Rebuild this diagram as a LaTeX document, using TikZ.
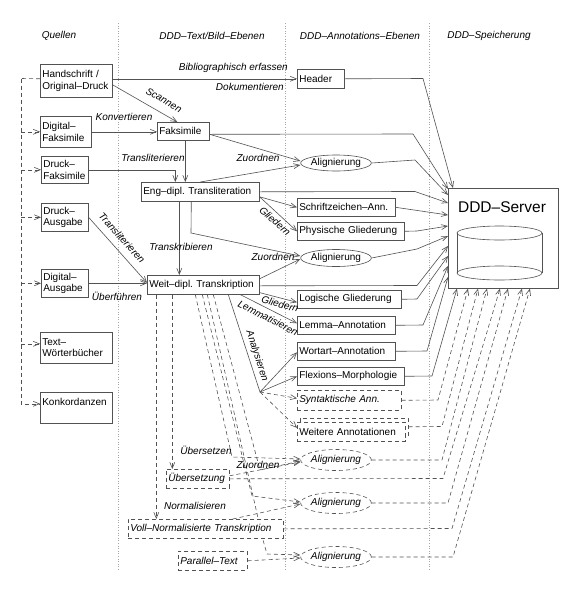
\documentclass[tikz,border=0pt]{standalone}
\usepackage{fontspec}
\setmainfont{Liberation Sans}
\usetikzlibrary{arrows.meta,shapes.geometric,calc}
\definecolor{lc}{gray}{0.32}
\pgfdeclarelayer{background}
\pgfsetlayers{background,main}
\frenchspacing
\begin{document}
\begin{tikzpicture}[x=1pt,y=-1pt,
  every node/.style={font=\fontsize{10}{11.5}\selectfont},
  box/.style={draw=lc, line width=0.6pt, inner xsep=2pt, inner ysep=2pt, align=left, anchor=north west, fill=white},
  dbox/.style={box, dash pattern=on 4pt off 3pt, font=\fontsize{10}{11.5}\selectfont\itshape},
  ell/.style={ellipse, draw=lc, line width=0.6pt, inner sep=0pt, fill=white},
  dell/.style={ell, dash pattern=on 4pt off 3pt, font=\fontsize{10}{11.5}\selectfont\itshape},
  lab/.style={font=\fontsize{10}{11.5}\selectfont\itshape, inner sep=0pt},
  con/.style={draw=lc, line width=0.6pt, -{Straight Barb[length=6pt,width=5pt]}},
  dcon/.style={con, dash pattern=on 4pt off 3pt},
  ln/.style={draw=lc, line width=0.6pt},
  dln/.style={ln, dash pattern=on 4pt off 3pt},
  sep/.style={draw=gray!70, line width=0.6pt, dash pattern=on 0.6pt off 2pt}
]
\useasboundingbox (0,0) rectangle (580,595);
% separators
\draw[sep] (118,23) -- (118,570);
\draw[sep] (285,23) -- (285,570);
\draw[sep] (429,23) -- (429,570);
% column titles
\node[lab] (h1) at (59,36) {Quellen};
\node[lab] (h2) at (212,36) {DDD–Text/Bild–Ebenen};
\node[lab] (h3) at (360,36) {DDD–Annotations–Ebenen};
\node[lab] (h4) at (489,36) {DDD–Speicherung};

% back box of Weitere Annotationen
\draw[dln] (300,436) -- (300,418) -- (408,418) -- (408,437) -- (405,437);

% boxes
\node[box, text width=68pt, minimum height=33pt] (hs) at (40,64) {Handschrift /\\Original–Druck};
\node[box, text width=47pt, minimum height=31pt] (dfak) at (40,116) {Digital–\\Faksimile};
\node[box, text width=48pt, minimum height=18pt] (fak) at (157,122) {Faksimile};
\node[box, text width=43pt, minimum height=19pt] (header) at (297,69) {Header};
\node[box, text width=43pt, minimum height=27pt] (drfak) at (41,156) {Druck–\\Faksimile};
\node[box, text width=114pt, minimum height=19pt] (eng) at (141,182) {Eng–dipl. Transliteration};
\node[box, text width=43pt, minimum height=28pt] (drausg) at (41,203) {Druck–\\Ausgabe};
\node[box, text width=43pt, minimum height=28pt] (digausg) at (41,269) {Digital–\\Ausgabe};
\node[box, text width=108pt, minimum height=19pt] (weit) at (147,275) {Weit–dipl. Transkription};
\node[box, text width=68pt, minimum height=31pt] (twb) at (40,332) {Text–\\Wörterbücher};
\node[box, text width=68pt, minimum height=31pt] (konk) at (40,392) {Konkordanzen\\\mbox{}};
\node[box, text width=94pt, minimum height=18pt] (schrift) at (297,198) {Schriftzeichen–Ann.};
\node[box, text width=103pt, minimum height=18pt] (phys) at (297,222) {Physische Gliederung};
\node[box, text width=100pt, minimum height=18pt] (logi) at (297,290) {Logische Gliederung};
\node[box, text width=94pt, minimum height=18pt] (lemma) at (297,316) {Lemma–Annotation};
\node[box, text width=94pt, minimum height=18pt] (wortart) at (297,342) {Wortart–Annotation};
\node[box, text width=103pt, minimum height=18pt] (flex) at (297,367) {Flexions–Morphologie};
\node[dbox, text width=100pt, minimum height=20pt] (synt) at (297,390) {Syntaktische Ann.};
\node[dbox, font=\fontsize{10}{11.5}\selectfont, text width=104pt, minimum height=19pt] (weitere) at (297,422) {Weitere Annotationen};
\node[dbox, text width=59pt, minimum height=19pt] (uebers) at (166,469) {Übersetzung};
\node[dbox, text width=151pt, minimum height=19pt] (voll) at (128,519) {Voll–Normalisierte Transkription};
\node[dbox, text width=65pt, minimum height=19pt] (par) at (178,551) {Parallel–Text};

% ellipses
\node[ell, minimum width=70pt, minimum height=16pt] (al1) at (336,163) {Alignierung};
\node[ell, minimum width=70pt, minimum height=17pt] (al2) at (336,258) {Alignierung};
\node[dell, minimum width=67pt, minimum height=21pt] (al3) at (336,460) {Alignierung};
\node[dell, minimum width=67pt, minimum height=21pt] (al4) at (336,503) {Alignierung};
\node[dell, minimum width=67pt, minimum height=21pt] (al5) at (336,557) {Alignierung};

% server
\node[box, minimum width=110pt, minimum height=100pt] (server) at (448,188) {};
\node[inner sep=0pt, font=\fontsize{15.5}{17}\selectfont] (srvlabel) at (502,207) {DDD–Server};
\draw[ln] (457,233) -- (457,273);
\draw[ln] (542,233) -- (542,273);
\draw[ln] (499.5,233) ellipse [x radius=42.5pt, y radius=7pt];
\draw[ln] (499.5,273) ellipse [x radius=42.5pt, y radius=7pt];

% left source bus
\coordinate (bus) at (21,78.5);
\coordinate (kw) at ($(konk.west)+(0,-4)$);
\coordinate (tw) at ($(twb.west)+(0,-4)$);
\draw[dln] ($(hs.west)+(0,-2)$) -- (bus);
\draw[dcon] (bus) -- (bus |- kw) -- (kw);
\draw[dcon] (bus |- dfak.west) -- (dfak.west);
\draw[dcon] (bus |- drfak.west) -- (drfak.west);
\draw[dcon] (bus |- drausg.west) -- (drausg.west);
\draw[dcon] (bus |- digausg.west) -- (digausg.west);
\draw[dcon] (bus |- tw) -- (tw);

% top connectors
\draw[con] (hs.east |- header.west) -- (header.west);
\node[lab, anchor=east] (l-bib) at (288,68) {Bibliographisch erfassen};
\node[lab, anchor=east] (l-dok) at (284,87) {Dokumentieren};
\draw[con] ($(hs.east)+(0,4)$) -- ($(fak.north)+(-6,0)$);
\node[lab, rotate=-30] (l-scan) at (164,100) {Scannen};
\draw[con] (dfak.east) -- (dfak.east -| fak.west);
\node[lab] (l-konv) at (124,117) {Konvertieren};
\draw[con] ($(fak.east)+(0,3)$) -- (413,134) -- ($(server.north west)+(0,1)$);
\draw[con] ($(fak.east)+(0,3)$) -- ($(al1.west)+(0,-2)$);
\draw[con] (header.east) -- (423,78.5) -- ($(server.north west)+(5,0)$);
\draw[con] ($(fak.south)+(2,0)$) -- ($(eng.north)+(-15,0)$);
\draw[con] (drfak.east) -| ($(eng.north)+(-25,0)$);
\node[lab] (l-transl1) at (153,158) {Transliterieren};
\draw[con] (eng.north) -- ($(al1.west)+(0,2)$);
\node[lab] (l-zu1) at (258,158) {Zuordnen};
\draw[con] ($(eng.south)+(-9,0)$) -- (191,233) -- ($(al2.west)+(0,-2)$);
\draw[con] ($(weit.east)+(0,-6)$) -- ($(al2.west)+(0,1)$);
\node[lab] (l-zu2) at (273,257) {Zuordnen};
\draw[con] ($(eng.east)+(0,5)$) -- (schrift.west);
\draw[con] ($(eng.east)+(0,5)$) -- (phys.west);
\node[lab, rotate=-42] (l-gl1) at (275,221) {Gliedern};
\draw[con] ($(eng.south)+(-21,0)$) -- ($(weit.north)+(-24,0)$);
\node[lab] (l-transk) at (181,247) {Transkribieren};
\draw[con] (drausg.east) -- ($(weit.west)+(0,-2)$);
\node[lab, rotate=-48] (l-transl2) at (122,238) {Transliterieren};
\draw[con] (digausg.east) -- (digausg.east -| weit.west);
\node[lab] (l-ueberf) at (117,296) {Überführen};

% to server (solid)
\draw[con] (eng.east) -- (415,191.5) -- ($(server.north west)+(0,15)$);
\draw[con] (al1.east) -- (415,160) -- ($(server.north west)+(0,7)$);
\draw[con] (schrift.east) -- ($(server.north west)+(0,27)$);
\draw[con] (phys.east) -- (417,231) -- ($(server.north west)+(0,38)$);
\draw[con] (al2.east) -- (417,249) -- ($(server.north west)+(0,48)$);
\draw[con] ($(weit.east)+(0,1)$) -- (417,285.5) -- ($(server.north west)+(0,58)$);
\draw[con] (logi.east) -- (417,299) -- ($(server.north west)+(0,68)$);
\draw[con] (lemma.east) -- (423,325) -- ($(server.north west)+(0,78)$);
\draw[con] (wortart.east) -- (427,351) -- ($(server.north west)+(0,89)$);
\draw[con] (flex.east) -- (432,376) -- ($(server.south west)+(9,0)$);

% Weit -> annotation
\draw[con] ($(weit.south east)+(0,-2)$) -- ($(logi.west)+(0,3)$);
\node[lab, rotate=-15] (l-gl2) at (280,304) {Gliedern};
\draw[con] ($(weit.south)+(37,0)$) -- ($(lemma.west)+(0,-2)$);
\node[lab, rotate=-27] (l-lemma) at (268,318) {Lemmatisieren};
\coordinate (br) at (260,392);
\draw[ln] ($(weit.south)+(25,0)$) -- (br);
\node[lab, rotate=-72] (l-anal) at (257,356) {Analysieren};
\draw[con] (br) -- ($(wortart.west)+(0,1)$);
\draw[con] (br) -- (flex.west);
\draw[dcon] (br) -- ($(synt.west)+(0,-2)$);
\draw[dcon] (br) -- ($(weitere.west)+(0,-4)$);

% to server (dashed)
\draw[dcon] (synt.east) -- (438,400) -- ($(server.south west)+(20,0)$);
\draw[dcon] ($(weitere.east)+(3,-5)$) -- (442,426.5) -- ($(server.south west)+(30,0)$);
\draw[dcon] (al3.east) -- (442,460) -- ($(server.south west)+(39,0)$);
\draw[dcon] (uebers.east) -- (443,478.5) -- ($(server.south west)+(52,0)$);
\draw[dcon] (al4.east) -- (448,503) -- ($(server.south west)+(60,0)$);
\draw[dcon] (voll.east) -- (452,528.5) -- ($(server.south west)+(74,0)$);
\draw[dcon] (al5.east) -- (453,557) -- ($(server.south west)+(82,0)$);

% Weit -> lower dashed
\coordinate (wn) at ($(weit.south)+(-47,0)$);
\coordinate (wu) at ($(weit.south)+(-31,0)$);
\draw[dcon] (wn) -- (wn |- voll.north);
\node[lab] (l-norm) at (195,506) {Normalisieren};
\draw[dcon] (wu) -- (wu |- uebers.north);
\node[lab] (l-uebs) at (206,450) {Übersetzen};
\draw[dcon] ($(weit.south)+(-8,0)$) -- (232,457) -- ($(al3.west)+(0,-1)$);
\draw[dcon] ($(weit.south)+(-1,0)$) -- (252,496) -- ($(al4.west)+(0,-1)$);
\begin{pgfonlayer}{background}
\draw[dcon] ($(weit.south)+(4,0)$) -- (263,540) -- (267,554) -- ($(al5.west)+(0,-2)$);
\end{pgfonlayer}
\draw[dcon] ($(weit.south)+(10,0)$) -- (260,470) -- ($(al3.west)+(0,1)$);
\draw[dcon] ($(uebers.east)+(0,-3)$) -- ($(al3.west)+(0,2)$);
\node[lab] (l-zu3) at (258,465) {Zuordnen};
\draw[dcon] ($(voll.north)+(27,0)$) -- ($(al4.west)+(0,1)$);
\draw[dcon] (par.east) -- ($(al5.west)+(0,1)$);
\end{tikzpicture}
\end{document}
